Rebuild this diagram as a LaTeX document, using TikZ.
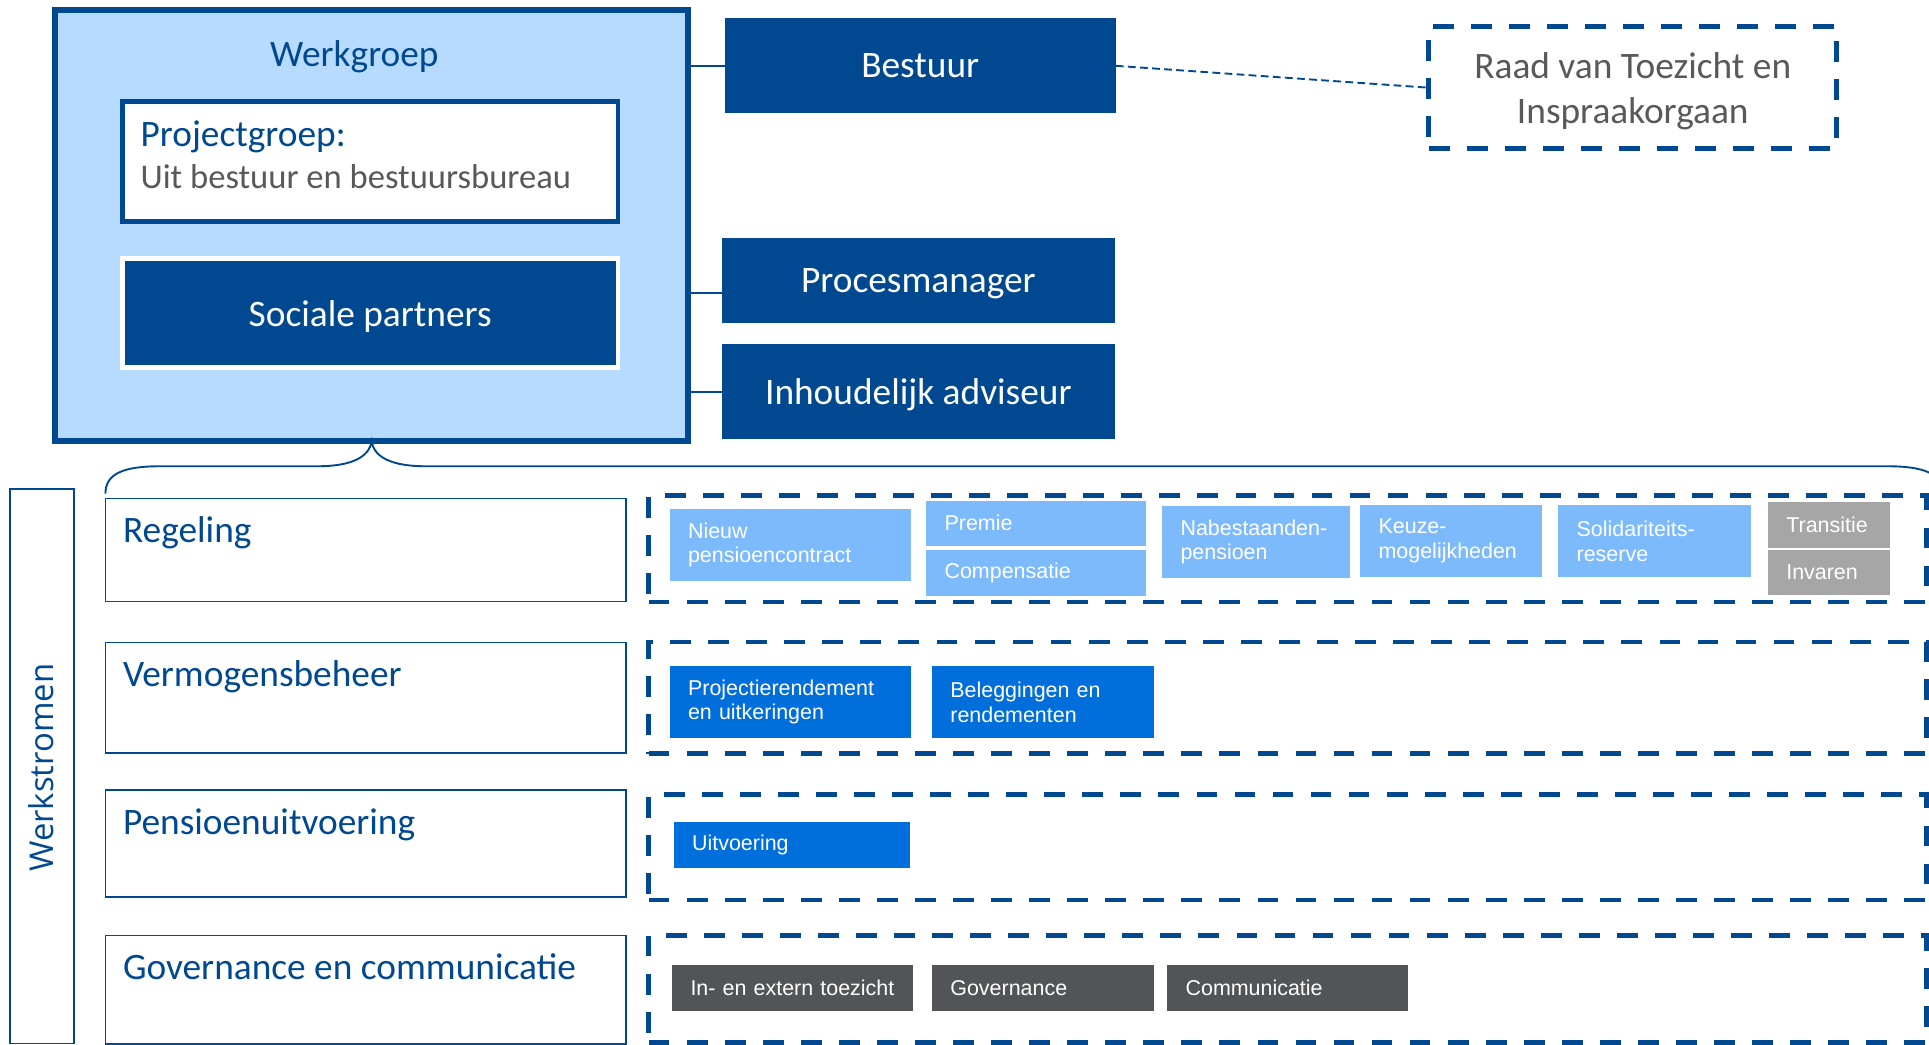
\documentclass[tikz,border=0pt]{standalone}
\usepackage{fontspec}
\setmainfont{Carlito}
\newfontfamily\arialfont{Liberation Sans}
\newfontfamily\segoefont{Open Sans}
\usepackage{tikz}
\usetikzlibrary{positioning}
\definecolor{dblue}{RGB}{0,73,144}
\definecolor{wgfill}{RGB}{183,219,254}
\definecolor{lblue}{RGB}{125,186,252}
\definecolor{mblue}{RGB}{0,111,220}
\definecolor{dgrey}{RGB}{83,84,88}
\definecolor{lgrey}{RGB}{166,166,166}
\definecolor{tgrey}{RGB}{89,89,89}
\tikzset{%
  big/.style={font=\fontsize{21.6pt}{25.6pt}\selectfont},
  tl/.style={anchor=north west, inner sep=0pt, outer sep=0pt},
  wgbox/.style={tl, draw=dblue, line width=3.4pt, fill=wgfill},
  pgbox/.style={tl, draw=dblue, line width=2.6pt, fill=white},
  dk/.style={tl, big, fill=dblue, text=white, text depth=0pt},
  dbox/.style={tl, draw=dblue, line width=2.7pt, dash pattern=on 12pt off 10pt},
  row/.style={tl, draw=dblue, line width=1pt, fill=white},
  lbl/.style={big, inner sep=0pt, text=dblue},
  sb/.style={tl, inner xsep=3.75mm, align=left, text=white,
    font=\arialfont\fontsize{12.4pt}{14.4pt}\selectfont},
  sbl/.style={sb, fill=lblue},
  sbm/.style={sb, fill=mblue},
  sbd/.style={sb, fill=dgrey},
  sbg/.style={sb, fill=lgrey},
  conn/.style={draw=dblue, line width=1.1pt},
  dotc/.style={conn, dash pattern=on 4.5pt off 2.5pt}
}

\begin{document}
\begin{tikzpicture}[x=0.25mm, y=-0.25mm]
        \useasboundingbox (0,0) rectangle (1568,849);
        \node[wgbox, minimum width=128.65mm, minimum height=87.55mm] (wg) at (44.8,8.4) {};
        \node[lbl] (wgt) at (288,46.5) {Werkgroep};
        \node[pgbox, minimum width=100.7mm, minimum height=24.35mm] (pg) at (99.5,82.6) {};
        \node[lbl, anchor=base west] (pgt) at (114,118.7) {Projectgroep:};
        \node[lbl, anchor=base west, text=tgrey, font=\fontsize{20pt}{24pt}\selectfont] (pgs)
          at ([yshift=-8.6mm]pgt.base west) {Uit bestuur en bestuursbureau};
        \node[dk, draw=white, line width=2.8pt, minimum width=100.7mm, minimum height=22.25mm] (sp)
          [below = 7.5mm of pg] {Sociale partners};
        \node[dk, minimum width=79.5mm, minimum height=19.3mm] (bs) at (589,14.9) {Bestuur};
        \node[dk, minimum width=79.75mm, minimum height=17.3mm] (pm) at (587,193.7) {Procesmanager};
        \node[dk, minimum width=79.75mm, minimum height=19.35mm] (ia) [below = 4.2mm of pm] {Inhoudelijk adviseur};
        \node[dbox, text=tgrey, align=center, font=\fontsize{21.6pt}{26pt}\selectfont, text depth=0pt,
          minimum width=82.9mm, minimum height=24.8mm] (rv) at (1161.4,21.7) {Raad van Toezicht en\\Inspraakorgaan};
        \coordinate (pmc) at ([yshift=-2.5mm]pm.west);
        \draw[conn] (bs.west) -- (bs.west -| wg.east);
        \draw[conn] (pmc) -- (pmc -| wg.east);
        \draw[conn] (ia.west) -- (ia.west -| wg.east);
        \draw[dotc] (bs.east) -- (rv.west);

        \node[row, minimum width=13.05mm, minimum height=112.65mm] (ws) at (8,397.7) {};
        \node[lbl, font=\segoefont\fontsize{19pt}{22pt}\selectfont, rotate=90] (wst) at (33.5,624) {Werkstromen};
        \node[row, minimum width=105.85mm, minimum height=20.95mm] (reg) at (85.7,405.2) {};
        \node[row, minimum width=105.85mm, minimum height=22.5mm] (vb) [below = 8.3mm of reg] {};
        \node[row, minimum width=105.85mm, minimum height=21.8mm] (pu) [below = 7.5mm of vb] {};
        \node[row, minimum width=105.85mm, minimum height=22mm] (gc) [below = 7.75mm of pu] {};
        \node[lbl] (regt) [below right = 3.7mm and 3.5mm of reg.north west] {Regeling};
        \node[lbl] (vbt) [below right = 3.7mm and 3.5mm of vb.north west] {Vermogensbeheer};
        \node[lbl] (put) [below right = 3.7mm and 3.5mm of pu.north west] {Pensioenuitvoering};
        \node[lbl] (gct) [below right = 3.7mm and 3.5mm of gc.north west] {Governance en communicatie};
        \draw[conn] ([yshift=1mm]reg.north west) .. controls +(0,-16) and (100,379) .. (130,379) -- (258,379)
          .. controls (285,379) and (300,372) .. (wg.south) .. controls (304,372) and (319,379) .. (346,379)
          -- (1534,379) .. controls (1564,379) and (1579,385) .. (1579,401);

        \node[dbox, minimum width=259.7mm, minimum height=21.6mm] (c1) at (527.3,403) {};
        \node[dbox, minimum width=259.7mm, minimum height=22.7mm] (c2) at (527.3,521.8) {};
        \node[dbox, minimum width=259.7mm, minimum height=21.4mm] (c3) at (527.3,646) {};
        \node[dbox, minimum width=259.7mm, minimum height=21.8mm] (c4) at (527.3,760.4) {};

        \node[sbl, text width=41.6mm, minimum height=14.5mm] (nieuw) at (544.3,414) {Nieuw\\pensioencontract};
        \node[sbl, text width=37.1mm, minimum height=9.15mm] (premie) at (752.8,407) {Premie};
        \node[sbl, text width=37.1mm, minimum height=9.2mm] (comp) [below = 0.95mm of premie] {Compensatie};
        \node[sbl, text width=30.6mm, minimum height=14.6mm] (nab) at (944.6,411.3) {Nabestaanden-\\pensioen};
        \node[sbl, text width=29.4mm, minimum height=14.6mm] (keuze) at (1105.6,410.5) {Keuze-\\mogelijkheden};
        \node[sbl, text width=31.75mm, minimum height=14.6mm] (sol) [right = 3.35mm of keuze] {Solidariteits-\\reserve};
        \node[sbg, text width=17.25mm, minimum height=9.2mm] (trans) at (1437,408.3) {Transitie};
        \node[sbg, text width=17.25mm, minimum height=9.2mm] (inv) [below = 0.5mm of trans] {Invaren};
        \node[sbm, text width=41.6mm, minimum height=14.6mm] (proj) at (544.3,541.4) {Projectierendement\\en uitkeringen};
        \node[sbm, text width=37.6mm, minimum height=14.6mm] (bel) [right = 4.2mm of proj] {Beleggingen en\\rendementen};
        \node[sbm, text width=40.45mm, minimum height=9.3mm] (uitv) at (547.6,668.2) {Uitvoering};
        \node[sbd, text width=41.45mm, minimum height=9.3mm] (toez) at (546.3,784.4) {In- en extern toezicht};
        \node[sbd, text width=37.6mm, minimum height=9.3mm] (gov) [right = 3.85mm of toez] {Governance};
        \node[sbd, text width=41.45mm, minimum height=9.3mm] (comm) [right = 2.7mm of gov] {Communicatie};
\end{tikzpicture}
\end{document}
